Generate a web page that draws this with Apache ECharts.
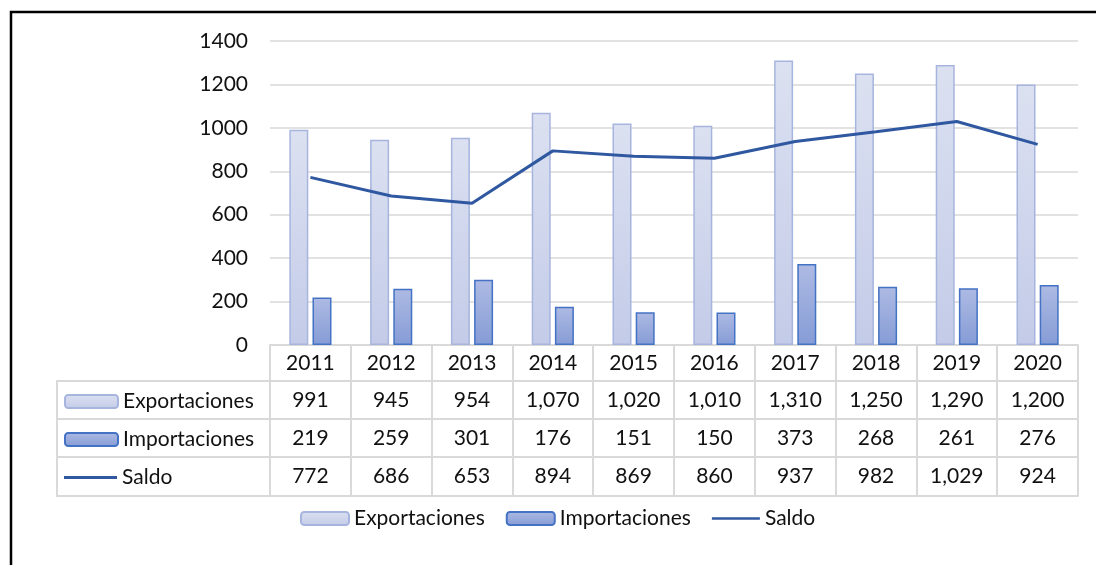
<!DOCTYPE html>
<html>
<head>
<meta charset="utf-8">
<script src="https://cdn.jsdelivr.net/npm/echarts@6/dist/echarts.min.js"></script>
<style>html,body{margin:0;padding:0;background:#fff}#c{width:1096px;height:565px}</style>
</head>
<body>
<div id="c"></div>
<script>
var years = ['2011','2012','2013','2014','2015','2016','2017','2018','2019','2020'];
var exportaciones = [991,945,954,1070,1020,1010,1310,1250,1290,1200];
var importaciones = [219,259,301,176,151,150,373,268,261,276];
var saldo = [772,686,653,894,869,860,937,982,1029,924];
var seriesNames = ['Exportaciones','Importaciones','Saldo'];
var yTicks = {min:0, max:1400, interval:200};

var FONT = 'Lato';
var FS = 21;
var TXT = '#111';
var GRID_C = '#d9d9d9';
var LINE_C = '#2f58a0';
function fmt(v){ return v.toLocaleString('en-US'); }

var chart = echarts.init(document.getElementById('c'), null, {renderer:'canvas'});

function rowAxis(data, offset, tickLen, margin, showLabel){
  return {
    type:'category', gridIndex:0, position:'bottom', offset:offset, data:data,
    boundaryGap:true,
    axisLine:{show:true, lineStyle:{color:GRID_C, width:2}},
    axisTick:{show:tickLen>0, length:tickLen, interval:0, alignWithLabel:false, lineStyle:{color:GRID_C, width:2}},
    axisLabel:{show:showLabel, interval:0, margin:margin, verticalAlign:'middle', fontFamily:FONT, fontSize:FS, color:TXT},
    splitLine:{show:false}
  };
}

function legendItems(names){
  return names.map(function(n){
    return n === 'Saldo' ? {name:n, icon:'path://M0,0 H53 V3 H0 Z', itemStyle:{color:LINE_C, borderWidth:0}} : {name:n};
  });
}

function tableLegend(name, top){
  return {
    data:legendItems([name]), orient:'vertical', left:64, top:top, padding:0,
    itemWidth:53, itemHeight:13, selectedMode:false,
    textStyle:{fontFamily:FONT, fontSize:FS, color:TXT}
  };
}

var option = {
  backgroundColor:'#fff',
  animation:false,
  textStyle:{fontFamily:FONT},
  grid:{left:270, right:18, top:41, bottom:220, containLabel:false},
  xAxis:[
    rowAxis(years, 0, 36, 18, true),
    rowAxis(exportaciones.map(fmt), 36, 38, 19, true),
    rowAxis(importaciones.map(fmt), 74, 38, 19, true),
    rowAxis(saldo.map(fmt), 112, 39, 19.5, true),
    rowAxis(years, 151, 0, 0, false)
  ],
  yAxis:{
    type:'value', min:yTicks.min, max:yTicks.max, interval:yTicks.interval,
    axisLine:{show:false}, axisTick:{show:false},
    axisLabel:{margin:22, fontFamily:FONT, fontSize:FS, color:TXT, formatter:function(v){return String(v);}},
    splitLine:{lineStyle:{color:GRID_C, width:1.5}}
  },
  legend:[
    {
      data:legendItems(seriesNames),
      orient:'horizontal', left:300, top:508, padding:0, itemWidth:48, itemHeight:13, itemGap:21,
      selectedMode:false,
      textStyle:{fontFamily:FONT, fontSize:FS, color:TXT}
    },
    tableLegend('Exportaciones', 391),
    tableLegend('Importaciones', 429),
    tableLegend('Saldo', 467)
  ],
  graphic:[
    {type:'rect', shape:{x:11, y:12, width:1200, height:700}, style:{fill:null, stroke:'#000', lineWidth:2.5}, silent:true, z:100},
    {type:'rect', shape:{x:57, y:381, width:213, height:115}, style:{fill:null, stroke:GRID_C, lineWidth:2}, silent:true},
    {type:'line', shape:{x1:57, y1:419, x2:270, y2:419}, style:{stroke:GRID_C, lineWidth:2}, silent:true},
    {type:'line', shape:{x1:57, y1:457, x2:270, y2:457}, style:{stroke:GRID_C, lineWidth:2}, silent:true}
  ],
  series:[
    {
      name:'Exportaciones', type:'bar', xAxisIndex:0, data:exportaciones,
      barWidth:19, barGap:'22%',
      itemStyle:{
        color:new echarts.graphic.LinearGradient(0,0,0,1,[{offset:0,color:'#dce1f1'},{offset:1,color:'#c3cbe8'}]),
        borderColor:'#a7b5de', borderWidth:1.5
      }
    },
    {
      name:'Importaciones', type:'bar', xAxisIndex:0, data:importaciones,
      barWidth:19, barGap:'22%',
      itemStyle:{
        color:new echarts.graphic.LinearGradient(0,0,0,1,[{offset:0,color:'#adbae3'},{offset:1,color:'#869cd6'}]),
        borderColor:'#4472c4', borderWidth:1.5
      }
    },
    {
      name:'Saldo', type:'line', xAxisIndex:0, data:saldo,
      symbol:'none', lineStyle:{color:LINE_C, width:3}, itemStyle:{color:LINE_C}
    }
  ]
};
chart.setOption(option);
</script>
</body>
</html>
